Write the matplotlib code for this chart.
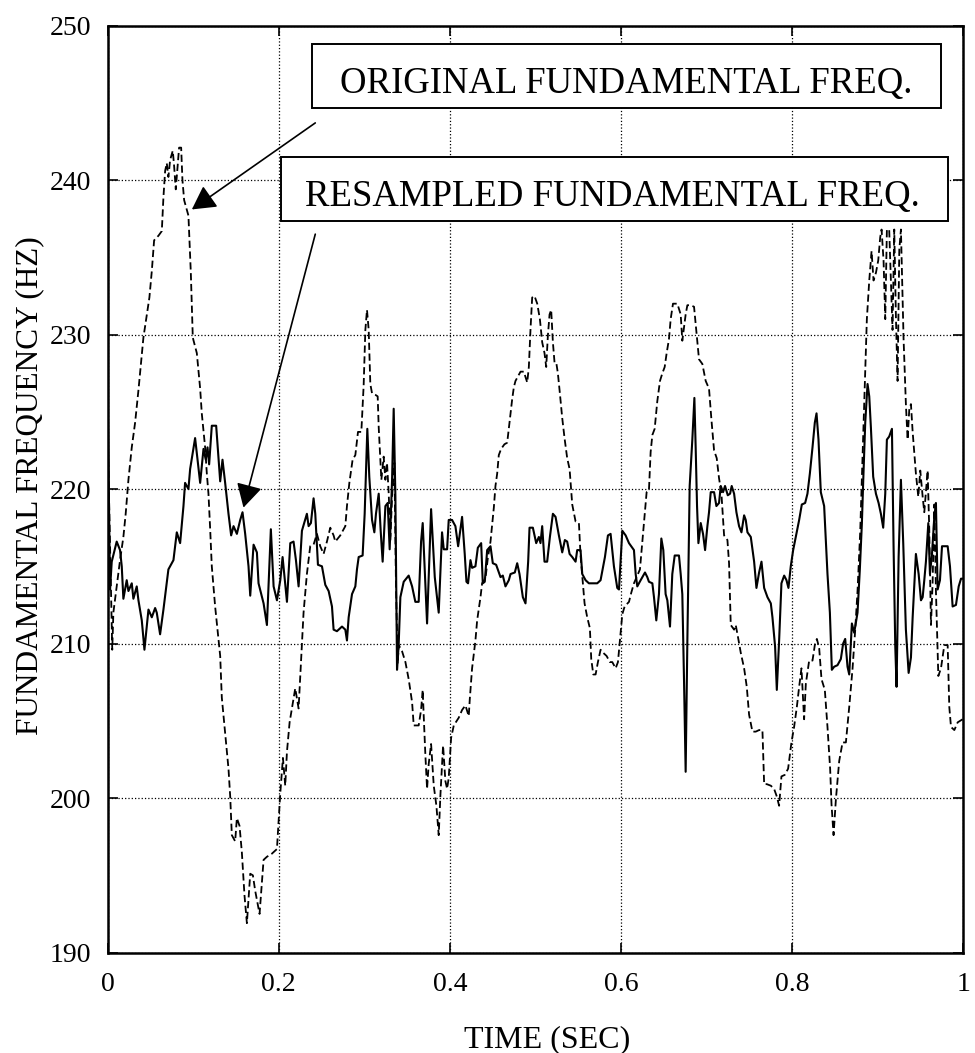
import numpy as np
import matplotlib.pyplot as plt
from matplotlib.patches import Rectangle

# 读数：重采样后的基频（实线）
t_resampled = np.array([
    0.0, 0.0029, 0.0049, 0.0107, 0.0146, 0.0166, 0.0185, 0.0224, 0.0244, 0.0283,
    0.0302, 0.0341, 0.0361, 0.0400, 0.0431, 0.0478, 0.0517, 0.0556, 0.0575, 0.0614,
    0.0653, 0.0711, 0.0770, 0.0809, 0.0848, 0.0887, 0.0906, 0.0945, 0.0965, 0.1023,
    0.1043, 0.1082, 0.1121, 0.1148, 0.1168, 0.1187, 0.1218, 0.1269, 0.1316, 0.1343,
    0.1374, 0.1413, 0.1444, 0.1472, 0.1511, 0.1550, 0.1577, 0.1608, 0.1647, 0.1667,
    0.1706, 0.1745, 0.1764, 0.1823, 0.1862, 0.1881, 0.1908, 0.1940, 0.1979, 0.2018,
    0.2045, 0.2068, 0.2096, 0.2135, 0.2173, 0.2201, 0.2232, 0.2271, 0.2329, 0.2349,
    0.2376, 0.2407, 0.2427, 0.2458, 0.2505, 0.2544, 0.2583, 0.2622, 0.2641, 0.2680,
    0.2739, 0.2778, 0.2797, 0.2817, 0.2856, 0.2895, 0.2914, 0.2934, 0.2980, 0.3004,
    0.3035, 0.3058, 0.3090, 0.3117, 0.3136, 0.3168, 0.3191, 0.3214, 0.3246, 0.3273,
    0.3296, 0.3324, 0.3343, 0.3363, 0.3382, 0.3401, 0.3421, 0.3460, 0.3518, 0.3558,
    0.3596, 0.3635, 0.3663, 0.3682, 0.3733, 0.3780, 0.3823, 0.3869, 0.3908, 0.3928,
    0.3967, 0.3986, 0.4025, 0.4064, 0.4096, 0.4142, 0.4173, 0.4193, 0.4212, 0.4240,
    0.4259, 0.4298, 0.4326, 0.4365, 0.4384, 0.4407, 0.4435, 0.4474, 0.4501, 0.4540,
    0.4591, 0.4618, 0.4649, 0.4688, 0.4708, 0.4758, 0.4786, 0.4813, 0.4852, 0.4883,
    0.4914, 0.4930, 0.4969, 0.5008, 0.5039, 0.5058, 0.5078, 0.5105, 0.5136, 0.5168,
    0.5203, 0.5234, 0.5273, 0.5312, 0.5343, 0.5370, 0.5398, 0.5429, 0.5468, 0.5487,
    0.5526, 0.5546, 0.5585, 0.5624, 0.5721, 0.5760, 0.5811, 0.5846, 0.5877, 0.5916,
    0.5955, 0.5975, 0.6014, 0.6053, 0.6092, 0.6150, 0.6170, 0.6189, 0.6228, 0.6279,
    0.6306, 0.6325, 0.6365, 0.6384, 0.6411, 0.6442, 0.6470, 0.6493, 0.6520, 0.6540,
    0.6571, 0.6598, 0.6626, 0.6676, 0.6696, 0.6715, 0.6735, 0.6754, 0.6774, 0.6801,
    0.6832, 0.6856, 0.6871, 0.6887, 0.6903, 0.6930, 0.6957, 0.6981, 0.7008, 0.7027,
    0.7047, 0.7086, 0.7113, 0.7144, 0.7164, 0.7191, 0.7214, 0.7246, 0.7273, 0.7292,
    0.7320, 0.7347, 0.7378, 0.7406, 0.7437, 0.7456, 0.7476, 0.7515, 0.7554, 0.7581,
    0.7612, 0.7640, 0.7671, 0.7710, 0.7749, 0.7768, 0.7799, 0.7819, 0.7846, 0.7873,
    0.7905, 0.7932, 0.7955, 0.7982, 0.8010, 0.8041, 0.8080, 0.8111, 0.8150, 0.8177,
    0.8205, 0.8236, 0.8263, 0.8283, 0.8306, 0.8333, 0.8372, 0.8411, 0.8439, 0.8462,
    0.8489, 0.8528, 0.8567, 0.8594, 0.8618, 0.8645, 0.8665, 0.8696, 0.8723, 0.8762,
    0.8789, 0.8813, 0.8829, 0.8852, 0.8879, 0.8899, 0.8918, 0.8945, 0.8977, 0.9008,
    0.9035, 0.9062, 0.9086, 0.9105, 0.9132, 0.9164, 0.9183, 0.9203, 0.9218, 0.9242,
    0.9269, 0.9296, 0.9327, 0.9359, 0.9386, 0.9406, 0.9444, 0.9476, 0.9503, 0.9523,
    0.9542, 0.9561, 0.9589, 0.9608, 0.9632, 0.9659, 0.9678, 0.9698, 0.9725, 0.9749,
    0.9815, 0.9842, 0.9873, 0.9912, 0.9944, 0.9971, 1.0])
f_resampled = np.array([
    226.5, 213.5, 215.3, 216.6, 216.05, 215.0, 212.9, 214.1, 213.4, 213.9,
    212.9, 213.7, 212.8, 211.5, 209.6, 212.2, 211.7, 212.3, 212.0, 210.6,
    212.2, 214.8, 215.4, 217.2, 216.5, 218.9, 220.4, 220.0, 221.3, 223.3,
    222.3, 220.4, 222.6, 221.9, 222.7, 221.6, 224.1, 224.1, 220.5, 221.9,
    220.4, 218.4, 217.0, 217.6, 217.1, 218.0, 218.5, 217.1, 215.0, 213.1,
    216.4, 215.9, 213.9, 212.6, 211.2, 213.7, 217.4, 213.7, 212.8, 214.1,
    215.6, 214.3, 212.7, 216.5, 216.6, 215.4, 213.7, 217.3, 218.4, 217.6,
    217.8, 219.4, 218.4, 215.1, 215.0, 213.8, 213.4, 212.4, 210.9, 210.8,
    211.1, 210.9, 210.2, 211.7, 213.2, 213.7, 214.8, 215.6, 215.7, 218.4,
    223.9, 220.8, 218.0, 217.2, 218.4, 219.7, 217.3, 215.3, 218.9, 219.1,
    216.1, 220.6, 225.2, 219.5, 208.3, 209.9, 213.0, 214.0, 214.4, 213.7,
    212.7, 212.7, 216.6, 217.8, 211.3, 218.7, 214.3, 212.0, 217.2, 216.1,
    216.1, 218.0, 218.0, 217.6, 216.3, 218.2, 215.8, 214.0, 213.9, 215.4,
    214.9, 215.0, 216.2, 216.5, 213.9, 214.0, 216.05, 216.3, 215.2, 215.1,
    214.3, 214.4, 213.7, 214.1, 214.5, 214.6, 215.2, 214.5, 213.0, 212.6,
    215.3, 217.5, 217.5, 216.5, 216.9, 216.5, 217.6, 215.3, 215.3, 216.9,
    218.4, 218.2, 217.0, 215.9, 216.7, 216.6, 215.8, 215.6, 215.3, 216.05,
    216.05, 214.5, 214.1, 213.9, 213.9, 214.1, 215.6, 217.0, 217.1, 215.0,
    213.6, 213.5, 217.3, 217.0, 216.5, 216.05, 214.5, 213.7, 214.1, 214.6,
    214.3, 214.0, 213.9, 213.0, 211.5, 213.2, 216.8, 216.05, 213.2, 212.8,
    211.1, 214.5, 215.7, 215.7, 214.5, 213.2, 207.6, 201.7, 210.2, 220.2,
    223.2, 225.9, 222.7, 218.9, 216.5, 217.8, 217.1, 216.05, 217.6, 218.5,
    219.8, 219.8, 218.9, 219.1, 220.2, 219.8, 220.2, 219.6, 219.7, 220.2,
    219.7, 218.5, 217.6, 217.2, 218.3, 218.0, 217.2, 216.9, 215.3, 213.6,
    214.6, 215.3, 213.6, 213.0, 212.6, 211.7, 209.8, 207.0, 210.2, 213.9,
    214.4, 214.1, 213.6, 215.0, 216.05, 216.9, 218.0, 219.0, 219.1, 219.7,
    221.0, 222.7, 224.3, 224.9, 223.2, 219.8, 218.9, 214.5, 212.0, 208.3,
    208.5, 208.6, 209.0, 210.0, 210.3, 208.5, 208.0, 211.3, 210.7, 212.0,
    214.8, 217.8, 220.6, 224.3, 226.8, 226.0, 224.0, 220.8, 219.7, 219.1,
    218.4, 217.5, 219.7, 223.2, 223.4, 223.9, 216.3, 209.8, 207.2, 215.6,
    220.6, 216.5, 210.9, 208.1, 209.1, 211.7, 215.8, 214.5, 212.8, 213.0,
    214.1, 215.3, 217.8, 214.5, 215.8, 218.2, 219.1, 213.5, 214.1, 216.3,
    216.3, 215.0, 212.4, 212.5, 213.7, 214.2, 214.2])

# 读数：原始基频（虚线）
t_original = np.array([
    0.0, 0.0055, 0.0068, 0.0107, 0.0146, 0.0185, 0.0212, 0.0244, 0.0283, 0.0322,
    0.0361, 0.0419, 0.0489, 0.0517, 0.0544, 0.0595, 0.0634, 0.0653, 0.0673, 0.0692,
    0.0711, 0.0731, 0.0762, 0.0778, 0.0797, 0.0817, 0.0836, 0.0860, 0.0875, 0.0895,
    0.0945, 0.0973, 0.0996, 0.1043, 0.1082, 0.1101, 0.1140, 0.1160, 0.1179, 0.1199,
    0.1218, 0.1238, 0.1257, 0.1289, 0.1316, 0.1335, 0.1374, 0.1413, 0.1433, 0.1452,
    0.1491, 0.1511, 0.1542, 0.1569, 0.1600, 0.1628, 0.1667, 0.1698, 0.1725, 0.1776,
    0.1823, 0.1862, 0.1920, 0.1979, 0.1998, 0.2018, 0.2049, 0.2076, 0.2096, 0.2127,
    0.2154, 0.2193, 0.2232, 0.2251, 0.2271, 0.2290, 0.2329, 0.2368, 0.2407, 0.2446,
    0.2485, 0.2524, 0.2563, 0.2602, 0.2641, 0.2661, 0.2719, 0.2778, 0.2797, 0.2825,
    0.2863, 0.2895, 0.2926, 0.2965, 0.2992, 0.3012, 0.3031, 0.3051, 0.3070, 0.3090,
    0.3129, 0.3156, 0.3168, 0.3199, 0.3226, 0.3246, 0.3265, 0.3285, 0.3304, 0.3324,
    0.3351, 0.3370, 0.3390, 0.3402, 0.3441, 0.3480, 0.3518, 0.3558, 0.3577, 0.3635,
    0.3663, 0.3682, 0.3694, 0.3713, 0.3733, 0.3752, 0.3780, 0.3811, 0.3842, 0.3869,
    0.3889, 0.3920, 0.3947, 0.3967, 0.3986, 0.4014, 0.4045, 0.4103, 0.4142, 0.4181,
    0.4220, 0.4232, 0.4259, 0.4298, 0.4318, 0.4357, 0.4376, 0.4415, 0.4442, 0.4474,
    0.4513, 0.4532, 0.4552, 0.4571, 0.4598, 0.4637, 0.4669, 0.4688, 0.4708, 0.4727,
    0.4747, 0.4766, 0.4786, 0.4825, 0.4863, 0.4903, 0.4922, 0.4942, 0.4961, 0.4988,
    0.5020, 0.5051, 0.5078, 0.5105, 0.5125, 0.5144, 0.5164, 0.5183, 0.5203, 0.5222,
    0.5242, 0.5261, 0.5281, 0.5312, 0.5339, 0.5370, 0.5398, 0.5429, 0.5468, 0.5507,
    0.5526, 0.5546, 0.5573, 0.5604, 0.5635, 0.5651, 0.5675, 0.5702, 0.5729, 0.5760,
    0.5791, 0.5830, 0.5869, 0.5897, 0.5936, 0.5963, 0.5986, 0.6014, 0.6041, 0.6092,
    0.6119, 0.6150, 0.6189, 0.6220, 0.6248, 0.6275, 0.6298, 0.6325, 0.6345, 0.6365,
    0.6392, 0.6423, 0.6454, 0.6482, 0.6509, 0.6532, 0.6559, 0.6579, 0.6606, 0.6657,
    0.6696, 0.6715, 0.6735, 0.6754, 0.6774, 0.6813, 0.6852, 0.6883, 0.6910, 0.6949,
    0.6988, 0.7027, 0.7055, 0.7086, 0.7117, 0.7144, 0.7172, 0.7203, 0.7242, 0.7261,
    0.7281, 0.7320, 0.7339, 0.7366, 0.7398, 0.7437, 0.7468, 0.7495, 0.7534, 0.7573,
    0.7612, 0.7651, 0.7671, 0.7702, 0.7749, 0.7787, 0.7819, 0.7846, 0.7873, 0.7912,
    0.7951, 0.7990, 0.8021, 0.8053, 0.8080, 0.8107, 0.8138, 0.8158, 0.8197, 0.8236,
    0.8263, 0.8287, 0.8314, 0.8341, 0.8380, 0.8411, 0.8442, 0.8458, 0.8482, 0.8509,
    0.8548, 0.8587, 0.8626, 0.8665, 0.8704, 0.8735, 0.8762, 0.8793, 0.8821, 0.8848,
    0.8871, 0.8899, 0.8926, 0.8949, 0.8977, 0.9004, 0.9027, 0.9043, 0.9066, 0.9086,
    0.9105, 0.9132, 0.9152, 0.9171, 0.9191, 0.9211, 0.9230, 0.9250, 0.9269, 0.9300,
    0.9327, 0.9347, 0.9367, 0.9386, 0.9406, 0.9444, 0.9472, 0.9495, 0.9523, 0.9542,
    0.9581, 0.9600, 0.9620, 0.9639, 0.9659, 0.9678, 0.9706, 0.9737, 0.9776, 0.9815,
    0.9834, 0.9854, 0.9893, 0.9932, 0.9990])
f_original = np.array([
    224.0, 209.6, 212.0, 213.7, 215.4, 216.9, 218.4, 220.6, 222.7, 224.3,
    226.4, 229.8, 232.4, 234.1, 236.1, 236.4, 236.7, 238.9, 240.6, 241.1,
    240.2, 241.3, 241.9, 240.9, 239.4, 240.8, 242.1, 242.1, 240.0, 238.7,
    237.7, 234.0, 229.8, 228.8, 226.5, 224.9, 222.7, 221.0, 219.7, 217.4,
    215.0, 213.7, 212.4, 210.7, 209.2, 206.5, 204.2, 201.9, 200.1, 197.6,
    197.2, 198.7, 198.2, 196.5, 193.7, 191.9, 195.1, 195.0, 194.0, 192.5,
    196.0, 196.2, 196.4, 196.7, 198.5, 200.3, 202.6, 200.8, 203.0, 204.9,
    205.8, 207.1, 205.8, 207.8, 209.9, 212.0, 214.5, 216.3, 216.4, 217.1,
    216.3, 215.8, 216.6, 217.5, 217.0, 216.6, 217.0, 217.6, 218.9, 220.4,
    221.9, 222.2, 223.7, 223.7, 226.7, 230.3, 231.6, 230.3, 226.8, 226.2,
    226.1, 226.0, 224.0, 220.6, 222.1, 220.6, 221.7, 219.7, 216.7, 219.5,
    221.7, 213.7, 208.7, 209.9, 209.5, 208.8, 207.7, 206.2, 204.7, 204.7,
    205.7, 207.0, 205.3, 202.8, 200.6, 202.2, 203.5, 200.8, 199.5, 197.6,
    200.2, 203.4, 201.1, 200.6, 201.3, 203.9, 204.7, 205.2, 205.7, 206.0,
    205.3, 206.4, 208.4, 210.2, 211.5, 213.0, 213.9, 214.2, 215.5, 216.6,
    218.8, 220.2, 221.0, 222.2, 222.6, 222.9, 223.0, 223.9, 224.8, 225.8,
    226.6, 227.0, 227.2, 227.6, 227.6, 226.9, 227.9, 230.4, 232.4, 232.5,
    232.0, 231.0, 229.5, 228.8, 227.9, 229.9, 231.3, 231.6, 229.5, 228.2,
    228.2, 227.5, 226.4, 224.6, 223.3, 222.0, 221.3, 219.0, 217.9, 217.8,
    215.7, 214.4, 212.6, 211.7, 211.0, 209.0, 208.0, 208.0, 208.8, 209.6,
    209.4, 209.2, 208.8, 208.8, 208.4, 208.8, 210.2, 211.9, 212.4, 212.7,
    213.3, 213.9, 214.4, 214.8, 216.6, 218.4, 219.8, 219.9, 222.4, 223.5,
    223.9, 225.7, 227.0, 227.5, 227.9, 228.8, 229.7, 231.0, 232.0, 232.0,
    231.3, 229.6, 230.5, 231.3, 231.9, 231.9, 231.8, 230.0, 228.4, 228.1,
    227.0, 226.5, 224.5, 222.5, 222.0, 220.7, 219.7, 217.0, 216.7, 215.2,
    211.2, 210.9, 211.2, 210.4, 209.4, 208.4, 207.2, 205.4, 204.3, 204.3,
    204.4, 204.4, 200.9, 200.9, 200.8, 200.6, 200.1, 199.5, 201.4, 201.5,
    201.9, 203.6, 204.6, 205.9, 207.2, 208.4, 205.1, 207.4, 208.9, 208.9,
    209.9, 210.3, 209.7, 207.7, 207.0, 204.6, 201.9, 199.6, 197.6, 199.9,
    202.4, 203.6, 203.6, 205.9, 208.4, 210.9, 213.4, 217.2, 222.2, 227.2,
    231.0, 233.5, 235.4, 233.5, 234.0, 234.8, 236.3, 236.8, 234.8, 231.0,
    236.8, 236.8, 233.5, 230.3, 236.8, 231.0, 227.0, 235.5, 236.8, 229.7,
    225.5, 223.2, 225.2, 225.5, 223.7, 221.0, 219.5, 221.2, 219.5, 218.5,
    221.2, 217.4, 211.2, 213.9, 219.0, 213.4, 207.9, 208.4, 209.9, 209.9,
    205.9, 204.6, 204.4, 204.9, 205.1])

x_ticks = [0, 0.2, 0.4, 0.6, 0.8, 1.0]
x_tick_labels = ['0', '0.2', '0.4', '0.6', '0.8', '1']
y_ticks = [190, 200, 210, 220, 230, 240, 250]

plt.rcParams['font.family'] = ['Liberation Serif', 'DejaVu Serif']

fig = plt.figure(figsize=(9.75, 10.53), dpi=100)
ax = fig.add_axes([0.1103, 0.0954, 0.8779, 0.8803])

# 两条曲线
ax.plot(t_original, f_original, color='black', linewidth=1.3,
        linestyle=(0, (4.0, 2.0)))
ax.plot(t_resampled, f_resampled, color='black', linewidth=1.5)

ax.set_xlim(0, 1)
ax.set_ylim(190, 250)
ax.set_xticks(x_ticks)
ax.set_xticklabels(x_tick_labels)
ax.set_yticks(y_ticks)
ax.grid(True, linestyle=':', color='black', linewidth=0.9)
ax.tick_params(direction='in', length=7, width=1.2, top=True, right=True,
               labelsize=20)
ax.tick_params(axis='x', pad=14)
ax.tick_params(axis='y', pad=12)
for sp in ax.spines.values():
    sp.set_linewidth(1.8)

ax.set_xlabel('TIME (SEC)', fontsize=23)
ax.xaxis.set_label_coords(0.514, -0.078)
ax.set_ylabel('FUNDAMENTAL FREQUENCY (HZ)', fontsize=22.5)
ax.yaxis.set_label_coords(-0.074, 0.504)

# 标注框
ax.add_patch(Rectangle((0.2389, 0.9110), 0.7348, 0.0691, transform=ax.transAxes,
                       facecolor='white', edgecolor='black', linewidth=1.4,
                       zorder=5))
ax.text(0.6063, 0.9272, 'ORIGINAL FUNDAMENTAL FREQ.', transform=ax.transAxes,
        ha='center', va='baseline', fontsize=26.5, zorder=6)
ax.add_patch(Rectangle((0.2027, 0.7891), 0.7792, 0.0690, transform=ax.transAxes,
                       facecolor='white', edgecolor='black', linewidth=1.4,
                       zorder=5))
ax.text(0.5899, 0.8053, 'RESAMPLED FUNDAMENTAL FREQ.', transform=ax.transAxes,
        ha='center', va='baseline', fontsize=26.5, zorder=6)

# 箭头
arrow = dict(arrowstyle='-|>,head_length=0.4,head_width=0.22', mutation_scale=36,
             color='black', linewidth=1.2, shrinkA=0, shrinkB=0)
ax.annotate('', xy=(0.0985, 238.1), xytext=(0.2427, 243.7), arrowprops=arrow,
            zorder=6)
ax.annotate('', xy=(0.1588, 218.8), xytext=(0.2427, 236.5), arrowprops=arrow,
            zorder=6)

plt.savefig('out.png', dpi=100)
